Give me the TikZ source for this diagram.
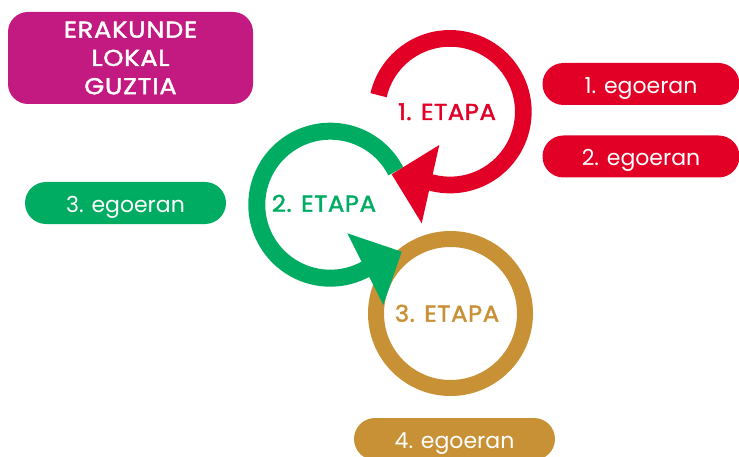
\documentclass[tikz,border=0pt]{standalone}
\usepackage{fontspec}
\setmainfont{Poppins}
\newfontfamily\etapafont[LetterSpace=2.5, FakeStretch=1.06, FakeBold=1.8]{Poppins}
\newfontfamily\orgfont[LetterSpace=3, FakeStretch=1.12, FakeBold=1.8]{Poppins}
\definecolor{redc}{RGB}{226,0,38}
\definecolor{greenc}{RGB}{0,172,98}
\definecolor{goldc}{RGB}{201,145,53}
\definecolor{magc}{RGB}{194,26,128}
\tikzset{
  pill/.style={fill=#1, rounded corners=21pt, minimum height=42pt, inner sep=0pt,
    text=white, font=\fontsize{22}{25}\selectfont, text height=18.6pt, text depth=0pt},
  orgbox/.style={fill=magc, rounded corners=20pt, minimum width=245pt, minimum height=92pt,
    inner sep=0pt, text=white, align=center, font=\orgfont\fontsize{23}{28.3}\selectfont},
  etapa/.style={anchor=base, inner sep=0pt, font=\etapafont\fontsize{23}{25}\selectfont},
  ringline/.style={line width=#1, line cap=butt}
}
\begin{document}
\begin{tikzpicture}[x=1pt,y=1pt]
\useasboundingbox (0,0) rectangle (739,456);
\clip (0,0) rectangle (739,456);
% centres
\coordinate (c1) at (450,344.3);
\coordinate (c2) at (330.3,251.3);
\coordinate (c3) at (450.5,142.5);
% rings
\draw[goldc, ringline=16pt] (c3) circle[radius=74.5pt];
\draw[greenc, ringline=17pt] ([shift={(27:73.5pt)}]c2) arc[start angle=27, end angle=300, radius=73.5pt];
\fill[greenc] (347.3,222.7) -- (401.7,204.3) -- (383.3,151) -- cycle;
\draw[redc, ringline=16.7pt] ([shift={(167:73.3pt)}]c1) arc[start angle=167, end angle=-112, radius=73.3pt];
\fill[redc] (439.3,311) -- (391.7,281.7) -- (421.7,232.7) -- cycle;
% labels
\node[etapa, text=redc] (e1) at (447,336) {1. ETAPA};
\node[etapa, text=greenc] (e2) at (324,244.3) {2. ETAPA};
\node[etapa, text=goldc] (e3) at (447,134.3) {3. ETAPA};
% boxes
\node[orgbox] (org) at (130.5,398) {ERAKUNDE\\LOKAL\\GUZTIA};
\node[pill=redc, minimum width=197pt] (s1) at (641,372) {1. egoeran};
\node[pill=redc, minimum width=197pt] (s2) at (641,299.5) {2. egoeran};
\node[pill=greenc, minimum width=201pt] (s3) at (125.5,253) {3. egoeran};
\node[pill=goldc, minimum width=201pt] (s4) at (454.5,17) {4. egoeran};
\end{tikzpicture}
\end{document}
